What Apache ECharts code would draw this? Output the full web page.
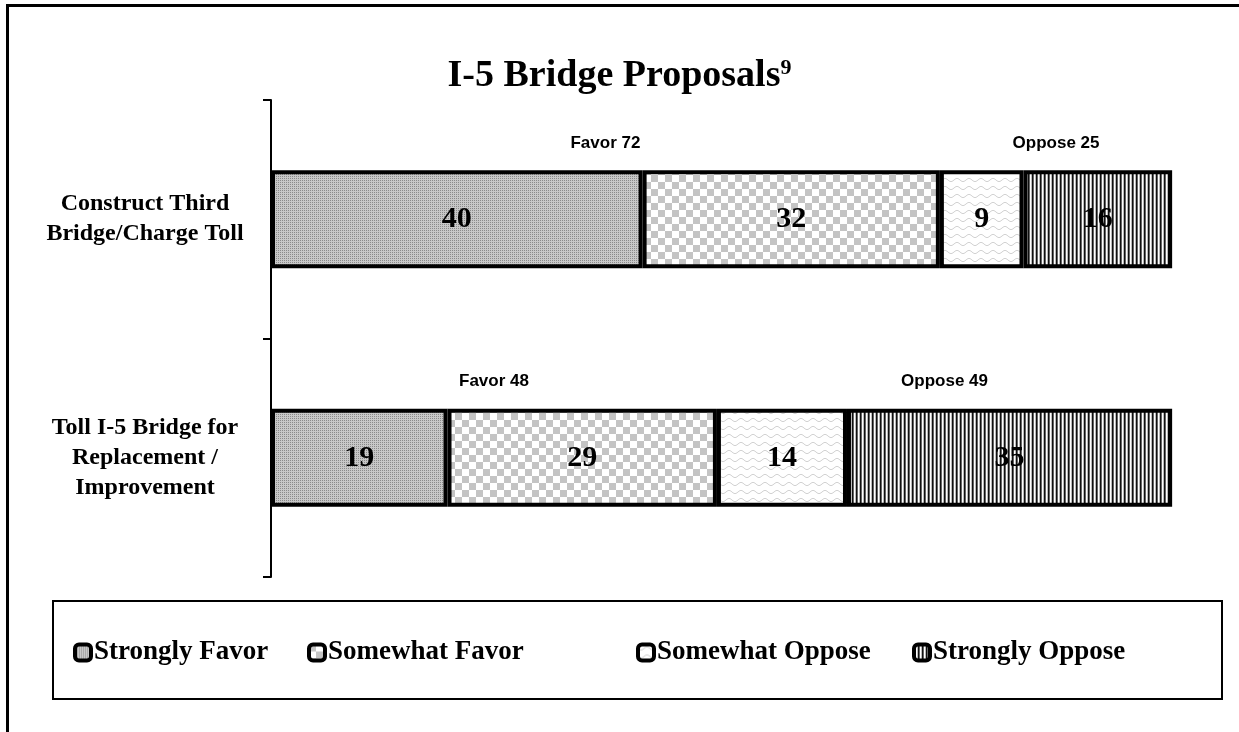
<!DOCTYPE html>
<html>
<head>
<meta charset="utf-8">
<script src="https://cdn.jsdelivr.net/npm/echarts@6/dist/echarts.min.js"></script>
<style>
  html, body { margin: 0; padding: 0; background: #fff; }
  #chart { width: 1239px; height: 732px; }
</style>
</head>
<body>
<div id="chart"></div>
<script>
// data
const categories = ['Construct Third\nBridge/Charge Toll', 'Toll I-5 Bridge for\nReplacement /\nImprovement'];
const seriesNames = ['Strongly Favor', 'Somewhat Favor', 'Somewhat Oppose', 'Strongly Oppose'];
const stronglyFavor = [40, 19];
const somewhatFavor = [32, 29];
const somewhatOppose = [9, 14];
const stronglyOppose = [16, 35];

const serif = 'Liberation Serif';
const sans = 'Liberation Sans';

// fill patterns drawn on small canvases
function makePattern(w, h, draw) {
  const c = document.createElement('canvas');
  c.width = w; c.height = h;
  const ctx = c.getContext('2d');
  draw(ctx);
  return { image: c, repeat: 'repeat' };
}

const patterns = [
  makePattern(2, 2, ctx => {
    ctx.fillStyle = '#c8c8c8'; ctx.fillRect(0, 0, 2, 2);
    ctx.fillStyle = '#8a8a8a'; ctx.fillRect(0, 0, 1, 1);
  }),
  makePattern(14, 14, ctx => {
    ctx.fillStyle = '#fff'; ctx.fillRect(0, 0, 14, 14);
    ctx.fillStyle = '#c4c4c4'; ctx.fillRect(0, 0, 7, 7); ctx.fillRect(7, 7, 7, 7);
  }),
  makePattern(12, 8, ctx => {
    ctx.fillStyle = '#fff'; ctx.fillRect(0, 0, 12, 8);
    ctx.strokeStyle = '#d2d2d2'; ctx.lineWidth = 1;
    ctx.beginPath();
    for (let x = 0; x <= 12; x++) {
      const y = 4 + 1.6 * Math.sin(x / 12 * Math.PI * 2);
      if (x === 0) ctx.moveTo(x, y); else ctx.lineTo(x, y);
    }
    ctx.stroke();
  }),
  makePattern(4, 1, ctx => {
    ctx.fillStyle = '#111'; ctx.fillRect(0, 0, 1, 1);
    ctx.fillStyle = '#666'; ctx.fillRect(1, 0, 1, 1);
    ctx.fillStyle = '#fff'; ctx.fillRect(2, 0, 1, 1);
    ctx.fillStyle = '#bbb'; ctx.fillRect(3, 0, 1, 1);
  })
];

const values = [stronglyFavor, somewhatFavor, somewhatOppose, stronglyOppose];

// group totals and their centres for the "Favor / Oppose" captions
const favorTotals = categories.map((_, i) => stronglyFavor[i] + somewhatFavor[i]);
const opposeTotals = categories.map((_, i) => somewhatOppose[i] + stronglyOppose[i]);
const captionPoints = [];
categories.forEach((cat, i) => {
  captionPoints.push({ value: [favorTotals[i] / 2, cat], text: 'Favor ' + favorTotals[i] });
  captionPoints.push({ value: [favorTotals[i] + opposeTotals[i] / 2, cat], text: 'Oppose ' + opposeTotals[i] });
});

const chart = echarts.init(document.getElementById('chart'));

const barSeries = seriesNames.map((name, k) => ({
  name: name,
  type: 'bar',
  stack: 'total',
  barWidth: '41%',
  data: values[k],
  itemStyle: { color: patterns[k], borderColor: '#000', borderWidth: 4 },
  label: {
    show: true,
    position: 'inside',
    formatter: '{c}',
    fontFamily: serif,
    fontWeight: 'bold',
    fontSize: 30,
    color: '#000'
  }
}));

// one legend per entry so each sits where the reference has it
const legendLeft = [73, 307, 636, 912];
const legends = seriesNames.map((n, k) => ({
  data: [{ name: n, itemStyle: { borderColor: '#000', borderWidth: 4 } }],
  left: legendLeft[k],
  top: 639,
  padding: 0,
  icon: 'roundRect',
  itemWidth: 16,
  itemHeight: 16,
  itemGap: 4,
  textStyle: { fontFamily: serif, fontWeight: 'bold', fontSize: 27, color: '#000', padding: [0, 0, 0, -2] }
}));

const option = {
  animation: false,
  backgroundColor: '#fff',
  title: {
    text: '{t|I-5 Bridge Proposals}{s|9}',
    left: 'center',
    top: 52,
    textStyle: {
      rich: {
        t: { fontFamily: serif, fontWeight: 'bold', fontSize: 38, color: '#000' },
        s: { fontFamily: serif, fontWeight: 'bold', fontSize: 22, color: '#000', verticalAlign: 'top' }
      }
    }
  },
  legend: legends,
  grid: { left: 271, right: 39, top: 100, bottom: 155 },
  xAxis: { type: 'value', min: 0, max: 100, show: false },
  yAxis: {
    type: 'category',
    inverse: true,
    data: categories,
    axisLine: { show: true, lineStyle: { color: '#000', width: 2 } },
    axisTick: { show: true, length: 8, lineStyle: { color: '#000', width: 2 } },
    axisLabel: {
      align: 'center',
      margin: 126,
      lineHeight: 30,
      fontFamily: serif,
      fontWeight: 'bold',
      fontSize: 24,
      color: '#000'
    }
  },
  series: barSeries.concat([{
    type: 'scatter',
    symbolSize: 0,
    silent: true,
    itemStyle: { opacity: 1 },
    data: captionPoints,
    label: {
      show: true,
      position: 'inside',
      offset: [0, -76],
      formatter: p => p.data.text,
      fontFamily: sans,
      fontWeight: 'bold',
      fontSize: 17,
      color: '#000'
    }
  }]),
  graphic: [
    { type: 'rect', shape: { x: 7.5, y: 5.5, width: 1300, height: 800 }, style: { fill: 'none', stroke: '#000', lineWidth: 3 } },
    { type: 'rect', shape: { x: 53, y: 601, width: 1169, height: 98 }, style: { fill: 'none', stroke: '#000', lineWidth: 2 } }
  ]
};

chart.setOption(option);
</script>
</body>
</html>
